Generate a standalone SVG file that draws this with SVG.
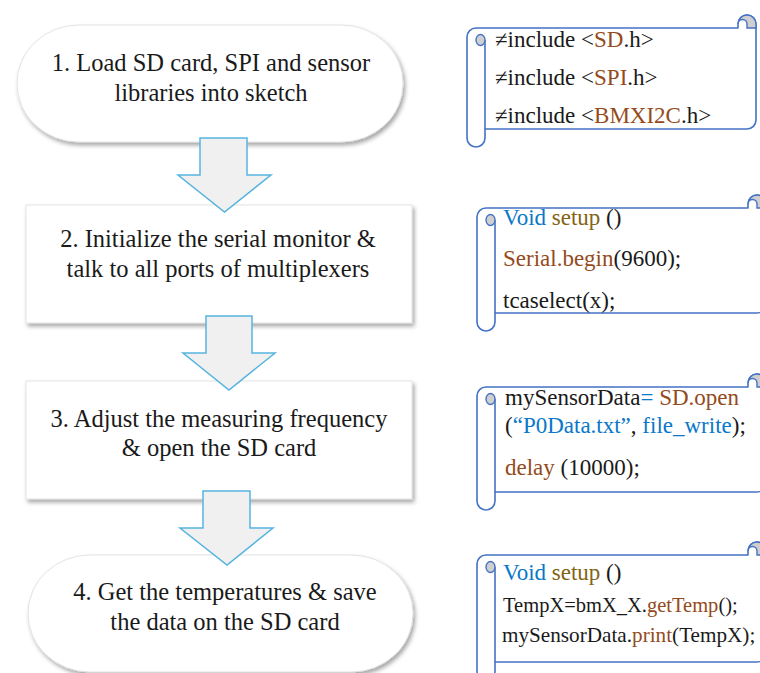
<svg xmlns="http://www.w3.org/2000/svg" width="760" height="673" viewBox="0 0 760 673">
<defs>
<filter id="sh" x="-10%" y="-10%" width="125%" height="135%">
<feDropShadow dx="2" dy="3" stdDeviation="2" flood-color="#000" flood-opacity="0.35"/>
</filter>
</defs>
<style>
.node{fill:#fff;stroke:#dcdcdc;stroke-width:0.8;filter:url(#sh)}
.lbl{font-family:"Liberation Serif","Times New Roman",serif;font-size:24.5px;fill:#1a1a1a;text-anchor:middle}
.arr{fill:#f0f0f0;stroke:#55b4df;stroke-width:1.5;stroke-linejoin:miter}
.scr{fill:#fff;stroke:#4472c4;stroke-width:1.6;stroke-linejoin:round}
.curl{fill:#cfcfcf;stroke:#4472c4;stroke-width:1.4}
.ln{fill:none;stroke:#4472c4;stroke-width:1.6}
.code{font-family:"Liberation Serif","Times New Roman",serif;font-size:23px;fill:#1a1a1a}
.br{fill:#944b1c}
.bl{fill:#0a78c8}
.ol{fill:#836414}
</style>

<g id="node1">
<path class="node" d="M79,25 L341,25 A62,58.5 0 0 1 341,142 L79,142 A62,58.5 0 0 1 79,25 Z"/>
<text class="lbl" x="211" y="71">1. Load SD card, SPI and sensor</text>
<text class="lbl" x="211" y="101">libraries into sketch</text>
</g>

<g id="node2">
<rect class="node" x="26" y="205" width="386" height="118"/>
<text class="lbl" x="218" y="247">2. Initialize the serial monitor &amp;</text>
<text class="lbl" x="218" y="277">talk to all ports of multiplexers</text>
</g>

<g id="node3">
<rect class="node" x="26" y="381" width="386" height="118"/>
<text class="lbl" x="219" y="427">3. Adjust the measuring frequency</text>
<text class="lbl" x="219" y="456">&amp; open the SD card</text>
</g>

<g id="node4">
<path class="node" d="M90,555 L351,555 A62,58.5 0 0 1 351,672 L90,672 A62,58.5 0 0 1 90,555 Z"/>
<text class="lbl" x="225" y="600">4. Get the temperatures &amp; save</text>
<text class="lbl" x="225" y="630">the data on the SD card</text>
</g>

<g id="connectors">
<path class="arr" d="M200,138 L247,138 L247,175 L271,175 L224.5,212 L178,175 L200,175 Z"/>
<path class="arr" d="M206,316 L252,316 L252,353 L275,353 L229,390 L183,353 L206,353 Z"/>
<path class="arr" d="M203,491 L250,491 L250,528 L273,528 L227,565 L180,528 L203,528 Z"/>
</g>

<g id="code1" transform="translate(467,28)">
<path class="scr" d="M0,9 A9,9 0 0 1 9,0 L271,0 L271,-4 A9,9 0 0 1 289,-4 L289,92 A9,9 0 0 1 280,101 L18,101 L18,110 A9,9 0 0 1 0,110 Z"/>
<path class="curl" d="M280,0 L280,-4 A4.5,4.5 0 0 0 271,-4 A9,9 0 0 1 289,-4 L289,0 Z"/>
<path class="ln" d="M18,12 L18,101"/>
<ellipse class="curl" cx="13.5" cy="12" rx="4.5" ry="5.5"/>
</g>
<g id="code1text" class="code">
<text x="495" y="47">≠include &lt;<tspan class="br">SD</tspan>.h&gt;</text>
<text x="495" y="85">≠include &lt;<tspan class="br">SPI</tspan>.h&gt;</text>
<text x="495" y="123">≠include &lt;<tspan class="br">BMXI2C</tspan>.h&gt;</text>
</g>

<g id="code2" transform="translate(477,208)">
<path class="scr" d="M0,9 A9,9 0 0 1 9,0 L271,0 L271,-4 A9,9 0 0 1 289,-4 L289,96 A9,9 0 0 1 280,105 L18,105 L18,114 A9,9 0 0 1 0,114 Z"/>
<path class="curl" d="M280,0 L280,-4 A4.5,4.5 0 0 0 271,-4 A9,9 0 0 1 289,-4 L289,0 Z"/>
<path class="ln" d="M18,12 L18,105"/>
<ellipse class="curl" cx="13.5" cy="12" rx="4.5" ry="5.5"/>
</g>
<g id="code2text" class="code">
<text x="503" y="225"><tspan class="bl">Void</tspan> <tspan class="ol">setup</tspan> ()</text>
<text x="503" y="266"><tspan class="br">Serial.begin</tspan>(9600);</text>
<text x="503" y="308">tcaselect(x);</text>
</g>

<g id="code3" transform="translate(477,387)">
<path class="scr" d="M0,9 A9,9 0 0 1 9,0 L271,0 L271,-4 A9,9 0 0 1 289,-4 L289,96 A9,9 0 0 1 280,105 L18,105 L18,114 A9,9 0 0 1 0,114 Z"/>
<path class="curl" d="M280,0 L280,-4 A4.5,4.5 0 0 0 271,-4 A9,9 0 0 1 289,-4 L289,0 Z"/>
<path class="ln" d="M18,12 L18,105"/>
<ellipse class="curl" cx="13.5" cy="12" rx="4.5" ry="5.5"/>
</g>
<g id="code3text" class="code">
<text x="505" y="405">mySensorData<tspan class="bl">=</tspan> <tspan class="br">SD.open</tspan></text>
<text x="505" y="433">(<tspan class="bl">“P0Data.txt”</tspan>, <tspan class="bl">file_write</tspan>);</text>
<text x="505" y="475"><tspan class="br">delay</tspan> (10000);</text>
</g>

<g id="code4" transform="translate(477,555)">
<path class="scr" d="M0,9 A9,9 0 0 1 9,0 L271,0 L271,-4 A9,9 0 0 1 289,-4 L289,98 A9,9 0 0 1 280,107 L18,107 L18,116 A9,9 0 0 1 0,116 Z"/>
<path class="curl" d="M280,0 L280,-4 A4.5,4.5 0 0 0 271,-4 A9,9 0 0 1 289,-4 L289,0 Z"/>
<path class="ln" d="M18,12 L18,107"/>
<ellipse class="curl" cx="13.5" cy="12" rx="4.5" ry="5.5"/>
</g>
<g id="code4text" class="code">
<text x="503" y="580"><tspan class="bl">Void</tspan> <tspan class="ol">setup</tspan> ()</text>
<text x="503" y="612" style="font-size:20.5px">TempX=bmX_X.<tspan class="br">getTemp</tspan>();</text>
<text x="502" y="642" style="font-size:21.2px">mySensorData.<tspan class="br">print</tspan>(TempX);</text>
</g>
</svg>
